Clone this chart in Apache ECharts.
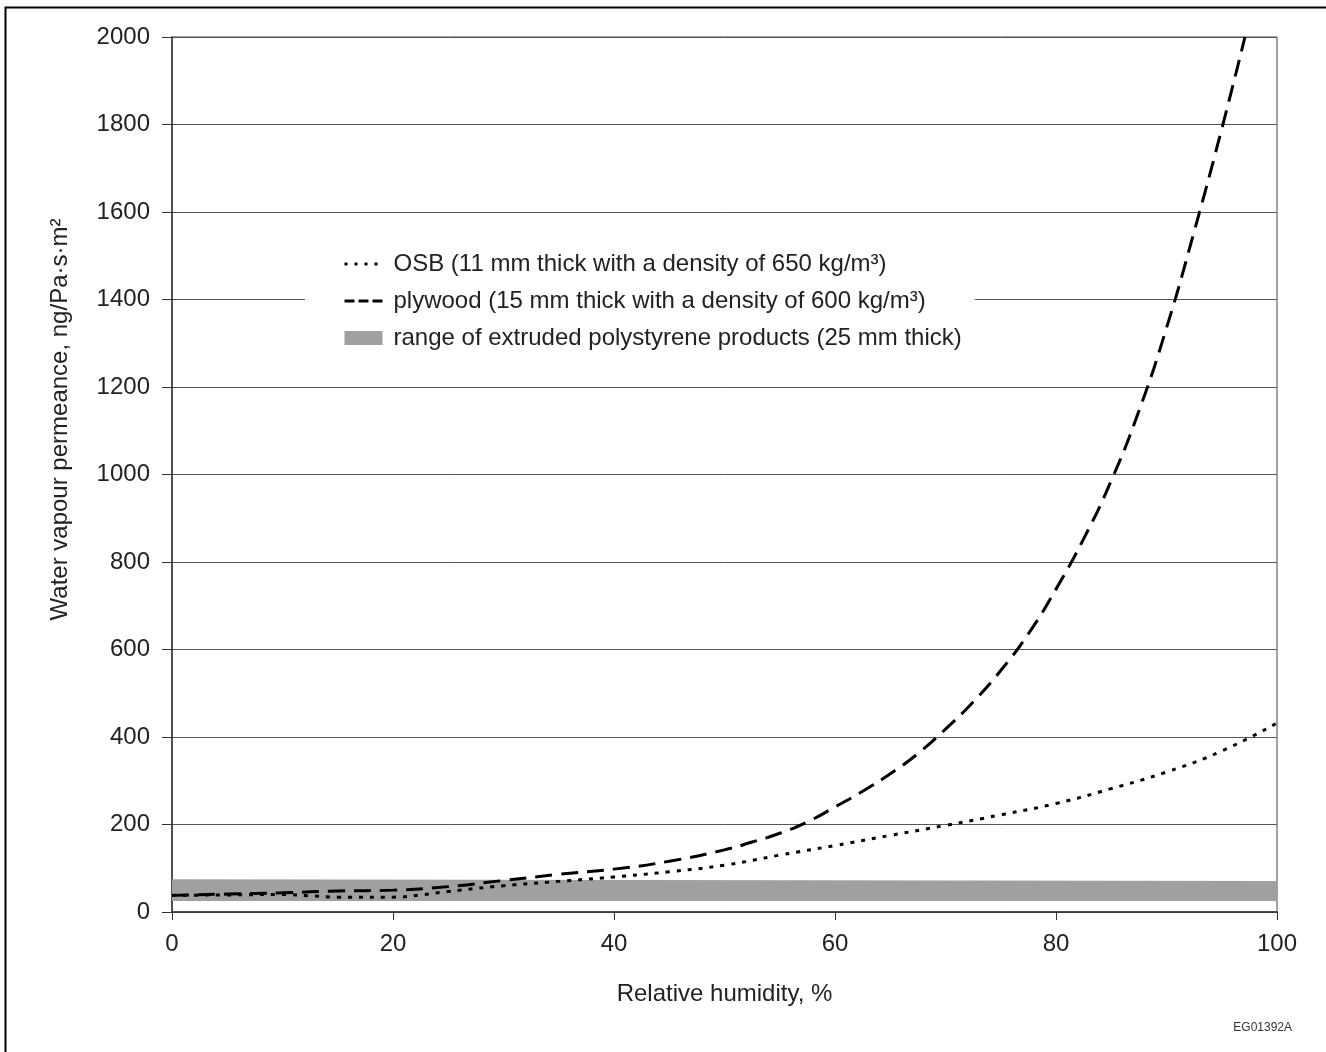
<!DOCTYPE html>
<html><head><meta charset="utf-8">
<script src="https://cdn.jsdelivr.net/npm/echarts@6/dist/echarts.min.js"></script>
<style>html,body{margin:0;padding:0;background:#fff}#c{width:1326px;height:1052px}</style>
</head><body><div id="c"></div>
<script>
// Relative humidity (%) and permeance values (ng/Pa·s·m²)
const osbX = [0,5,10,12.5,15,20,22.5,25,30,35,40,45,50,55,60,65,70,75,80,85,90,95,100];
const osbY = [38,39,40,37,34,34,39,47,60,70,80,92,107,130,152,175,198,222,248,282,320,368,432];
const plyX = [0,5,10,15,20,25,30,35,40,45,50,52.5,55,57.5,60,62.5,65,67.5,70,72.5,75,77.5,80,82.5,85,87.5,90,92.5,95,97.1];
const plyY = [38,41,44,48,50,58,72,86,98,116,142,160,180,206,240,276,316,362,418,480,552,636,738,853,986,1145,1335,1555,1790,2000];
const bandX = [0,100];
const bandLow = [25,25];
const bandHigh = [75,71];

const nameOsb = 'OSB (11 mm thick with a density of 650 kg/m³)';
const namePly = 'plywood (15 mm thick with a density of 600 kg/m³)';
const nameBand = 'range of extruded polystyrene products (25 mm thick)';
const xName = 'Relative humidity, %';
const yName = 'Water vapour permeance, ng/Pa·s·m²';
const figCode = 'EG01392A';

const FONT = '"Liberation Sans", Arial, sans-serif';
const FS = 24;
const pair = (xs, ys) => xs.map((x, i) => [x, ys[i]]);

const chart = echarts.init(document.getElementById('c'), null, {renderer: 'canvas'});
chart.setOption({
  backgroundColor: '#fff',
  animation: false,
  textStyle: {fontFamily: FONT, color: '#222'},
  grid: {left: 172, right: 49, top: 37, bottom: 140, show: true, borderColor: '#444', borderWidth: 1, backgroundColor: 'transparent'},
  graphic: [
    {type: 'rect', shape: {x: 5.5, y: 7.5, width: 1400, height: 1100}, style: {fill: 'none', stroke: '#000', lineWidth: 2}, silent: true},
    {type: 'text', right: 34, top: 1022, style: {text: figCode, font: '12px ' + FONT, fill: '#333'}}
  ],
  legend: {
    orient: 'vertical', left: 305, top: 232,
    padding: [20, 13, 20, 38],
    backgroundColor: '#fff',
    itemWidth: 38, itemHeight: 14, itemGap: 13,
    textStyle: {fontFamily: FONT, fontSize: FS, color: '#222', lineHeight: 22, padding: [0, 0, 0, 6]},
    data: [
      {name: nameOsb, itemStyle: {opacity: 0}, lineStyle: {color: '#000', width: 3, type: [3, 7]}},
      {name: namePly, itemStyle: {opacity: 0}, lineStyle: {color: '#000', width: 3, type: [10, 4]}},
      {name: nameBand, icon: 'rect', itemStyle: {color: '#a0a0a0'}}
    ]
  },
  xAxis: {
    type: 'value', min: 0, max: 100, interval: 20,
    name: xName, nameLocation: 'middle', nameGap: 70,
    nameTextStyle: {fontFamily: FONT, fontSize: FS, color: '#222'},
    axisLine: {lineStyle: {color: '#333', width: 1.5}},
    axisTick: {show: true, length: 8, lineStyle: {color: '#333'}},
    axisLabel: {fontFamily: FONT, fontSize: FS, color: '#222', margin: 20},
    splitLine: {show: false}
  },
  yAxis: {
    type: 'value', min: 0, max: 2000, interval: 200,
    name: yName, nameLocation: 'middle', nameGap: 100,
    nameTextStyle: {fontFamily: FONT, fontSize: FS, color: '#222', padding: [0, 0, 0, 110]},
    axisLine: {show: true, lineStyle: {color: '#333', width: 1.5}},
    axisTick: {show: true, length: 10, lineStyle: {color: '#333'}},
    axisLabel: {fontFamily: FONT, fontSize: FS, color: '#222', margin: 22, formatter: v => String(v)},
    splitLine: {show: true, lineStyle: {color: '#555', width: 1}}
  },
  series: [
    {name: nameBand, type: 'custom', data: pair(bandX, bandHigh), itemStyle: {color: '#a0a0a0'}, z: 1, silent: true,
     renderItem: (params, api) => {
       if (params.dataIndex !== 0) return null;
       const upper = bandX.map((x, i) => api.coord([x, bandHigh[i]]));
       const lower = bandX.map((x, i) => api.coord([x, bandLow[i]])).reverse();
       return {type: 'polygon', shape: {points: upper.concat(lower)}, style: {fill: '#a0a0a0'}};
     }},
    {name: nameOsb, type: 'line', data: pair(osbX, osbY), symbol: 'none', smooth: 0.5, color: '#000',
     lineStyle: {color: '#000', width: 3, type: [4, 7]}, z: 3},
    {name: namePly, type: 'line', data: pair(plyX, plyY), symbol: 'none', smooth: 0.5, color: '#000',
     lineStyle: {color: '#000', width: 3, type: [17, 9]}, z: 3}
  ]
});
</script></body></html>
